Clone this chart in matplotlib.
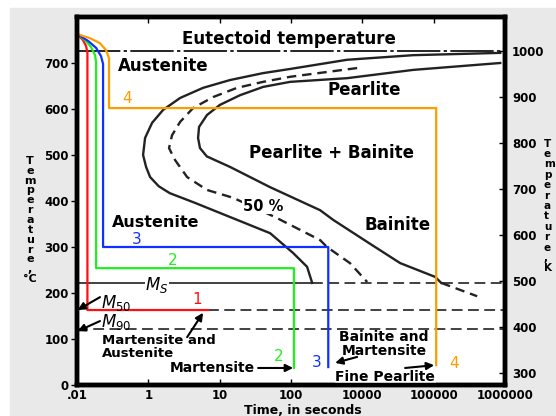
import matplotlib
matplotlib.use('Agg')
import matplotlib.pyplot as plt
from matplotlib.patches import Rectangle

plt.rcParams['font.family'] = 'DejaVu Sans'

# --- TTT curves (time in s, temperature in C) ---
# start of transformation (outer solid curve)
start_t = [8570, 515, 61, 9.7, 4.06, 1.40, 0.585, 0.279, 0.161, 0.113, 0.090, 0.0844,
           0.093, 0.106, 0.14, 0.20, 0.45, 1.01, 5.1, 10.7, 16.8, 19.8]
start_T = [722, 717, 707, 687, 678, 663, 646, 624, 598, 570, 537, 500,
           474, 452, 432, 417, 396, 374, 330, 287, 257, 222]

# 50 % transformed (dashed curve)
half_t = [84.5, 9.7, 4.06, 1.75, 0.81, 0.424, 0.279, 0.215, 0.195, 0.237, 0.35, 0.665,
          1.54, 5.98, 25.6, 32, 67, 117]
half_T = [689, 670, 659, 646, 626, 602, 572, 543, 515, 489, 452, 424,
          407, 365, 315, 300, 265, 224]

# end of transformation (inner solid curve) + dashed tail below Ms
fin_t = [8570, 515, 61, 9.7, 4.06, 1.93, 1.01, 0.665, 0.514, 0.498, 0.53, 0.66,
         1.40, 5.1, 25.6, 39, 117, 339, 1050, 1274]
fin_T = [700, 685, 667, 659, 648, 630, 609, 587, 561, 537, 515, 497,
         474, 430, 380, 359, 311, 265, 235, 222]
tail_t = [1274, 4070]
tail_T = [222, 193]

# cooling paths 1-4
red_t = [0.01, 0.0121, 0.0134, 0.014, 0.014, 0.69]
red_T = [763, 750, 737, 722, 163, 163]
green_t = [0.01, 0.0129, 0.0157, 0.0179, 0.0185, 0.0185, 11.0, 11.0]
green_T = [763, 750, 735, 717, 702, 254, 254, 37]
blue_t = [0.01, 0.0143, 0.0185, 0.0217, 0.0232, 0.0232, 33.3, 33.3]
blue_T = [763, 748, 733, 715, 698, 300, 300, 39]
orange_t = [0.01, 0.0152, 0.021, 0.0255, 0.0281, 0.0281, 1085, 1085]
orange_T = [763, 754, 743, 728, 711, 602, 602, 43]

# reference temperatures
eutectoid = 727
ms_T = 222
m50_T = 163
m90_T = 122

xticks = [1e-2, 1e-1, 1, 10, 100, 1000, 1e4]
xlabels = ['.01', '1', '10', '100', '10000', '100000', '1000000']
yticks = [0, 100, 200, 300, 400, 500, 600, 700]
kticks = [300, 400, 500, 600, 700, 800, 900, 1000]

W, H = 556, 416
fig = plt.figure(figsize=(W / 100, H / 100), dpi=100)
fig.patch.set_facecolor('white')
# grey page behind the chart
fig.patches.append(Rectangle((10 / W, 0), 1, 1 - 8 / H, transform=fig.transFigure,
                             color='#e9e9e9', zorder=-10))

ax = fig.add_axes([77 / W, 1 - 385 / H, 428 / W, 368 / H])
ax.set_facecolor('white')
ax.set_xscale('log')
ax.set_xlim(1e-2, 1e4)
ax.set_ylim(0, 800)

# reference lines
ax.plot([1e-2, 1e4], [eutectoid, eutectoid], color='k', lw=1.2, dashes=(26, 2, 2, 2))
ax.plot([1e-2, 19.8], [ms_T, ms_T], color='#333333', lw=1.3)
ax.plot([19.8, 1e4], [ms_T, ms_T], color='#333333', lw=1.3, dashes=(6, 3))
ax.plot([0.69, 1e4], [m50_T, m50_T], color='#333333', lw=1.3, dashes=(6, 3))
ax.plot([1e-2, 1e4], [m90_T, m90_T], color='#333333', lw=1.3, dashes=(6, 3))

# transformation curves
ax.plot(start_t, start_T, color='#222222', lw=1.7)
ax.plot(half_t, half_T, color='#222222', lw=1.7, dashes=(4, 2.5))
ax.plot(fin_t, fin_T, color='#222222', lw=1.7)
ax.plot(tail_t, tail_T, color='#222222', lw=1.7, dashes=(4, 2.5))

# cooling paths
ax.plot(red_t, red_T, color='#ff1010', lw=1.6)
ax.plot(green_t, green_T, color='#22ee22', lw=1.6)
ax.plot(blue_t, blue_T, color='#1030ff', lw=1.6)
ax.plot(orange_t, orange_T, color='#ff9c00', lw=1.6)

bold = dict(fontweight='bold', color='k')
ax.text(9.4, 752, 'Eutectoid temperature', ha='center', va='center', fontsize=12, **bold)
ax.text(0.0376, 693, 'Austenite', ha='left', va='center', fontsize=12, **bold)
ax.text(106, 641, 'Pearlite', ha='center', va='center', fontsize=12, **bold)
ax.text(36.5, 504, 'Pearlite + Bainite', ha='center', va='center', fontsize=12, **bold)
ax.text(4.06, 389, '50 %', ha='center', va='center', fontsize=10.5,
        bbox=dict(fc='white', ec='none', pad=0.5), **bold)
ax.text(0.031, 353, 'Austenite', ha='left', va='center', fontsize=11.5, **bold)
ax.text(308, 348, 'Bainite', ha='center', va='center', fontsize=12, **bold)

ax.text(0.132, 217, r'$M_S$', ha='center', va='center', fontsize=12,
        bbox=dict(fc='white', ec='none', pad=0.3))
ax.text(0.0217, 178, r'$M_{50}$', ha='left', va='center', fontsize=12)
ax.text(0.0217, 137, r'$M_{90}$', ha='left', va='center', fontsize=12)
ax.text(0.0224, 83, 'Martensite and\nAustenite', ha='left', va='center', fontsize=9.5,
        linespacing=0.95, **bold)
ax.text(3.14, 37, 'Martensite', ha='right', va='center', fontsize=10, **bold)
ax.text(202, 89, 'Bainite and\nMartensite', ha='center', va='center', fontsize=10,
        linespacing=0.95, **bold)
ax.text(209, 17, 'Fine Pearlite', ha='center', va='center', fontsize=10,
        bbox=dict(fc='white', ec='none', pad=0.5), **bold)

# path numbers
ax.text(0.48, 185, '1', color='#ff1010', ha='center', va='center', fontsize=11)
ax.text(0.222, 270, '2', color='#22ee22', ha='center', va='center', fontsize=11)
ax.text(0.0695, 317, '3', color='#1030ff', ha='center', va='center', fontsize=11)
ax.text(0.0502, 622, '4', color='#ff9c00', ha='center', va='center', fontsize=11)
ax.text(6.8, 61, '2', color='#22ee22', ha='center', va='center', fontsize=11)
ax.text(23.2, 48, '3', color='#1030ff', ha='center', va='center', fontsize=11)
ax.text(1940, 46, '4', color='#ff9c00', ha='center', va='center', fontsize=11)

# arrows
arw = dict(arrowstyle='-|>', color='k', lw=1.5, mutation_scale=11, shrinkA=0, shrinkB=0)
ax.annotate('', xy=(0.0102, 163), xytext=(0.021, 191), arrowprops=arw)
ax.annotate('', xy=(0.0102, 117), xytext=(0.021, 139), arrowprops=arw)
ax.annotate('', xy=(0.585, 157), xytext=(0.35, 104), arrowprops=arw)
ax.annotate('', xy=(10.7, 37), xytext=(3.46, 37), arrowprops=arw)
ax.annotate('', xy=(41.6, 48), xytext=(84.5, 61), arrowprops=arw)
ax.annotate('', xy=(1016, 43), xytext=(398, 37), arrowprops=arw)

# axes / ticks
ax.set_xticks(xticks)
ax.set_xticklabels(xlabels)
ax.minorticks_off()
ax.set_yticks(yticks)
ax.tick_params(axis='x', direction='in', length=4, width=1, top=True,
               labelsize=8.5, pad=3)
ax.tick_params(axis='y', direction='out', length=4, width=1, labelsize=8.5, pad=2)
for lab in ax.get_xticklabels() + ax.get_yticklabels():
    lab.set_fontweight('bold')

ax2 = ax.twinx()
ax2.set_ylim(273, 1073)
ax2.set_yticks(kticks)
ax2.tick_params(axis='y', direction='in', length=4, width=1, labelsize=8.5, pad=5)
for lab in ax2.get_yticklabels():
    lab.set_fontweight('bold')

for a in (ax, ax2):
    for s in a.spines.values():
        s.set_linewidth(3.2)

# axis titles (x title sits a bit right of centre in the original)
fig.text(303 / W, 1 - 410 / H, 'Time, in seconds', ha='center', va='center',
         fontsize=9, fontweight='bold')
fig.text(30 / W, 1 - 220 / H, '\n'.join(list('Temperature') + [',', '°C']),
         ha='center', va='center', fontsize=8, fontweight='bold', linespacing=0.98)
fig.text(544 / W, 1 - 206 / H, '\n'.join(list('Temperature') + [',', 'K']),
         ha='left', va='center', fontsize=7.5, fontweight='bold', linespacing=1.05)

fig.savefig('out.png', dpi=100, facecolor=fig.get_facecolor())
